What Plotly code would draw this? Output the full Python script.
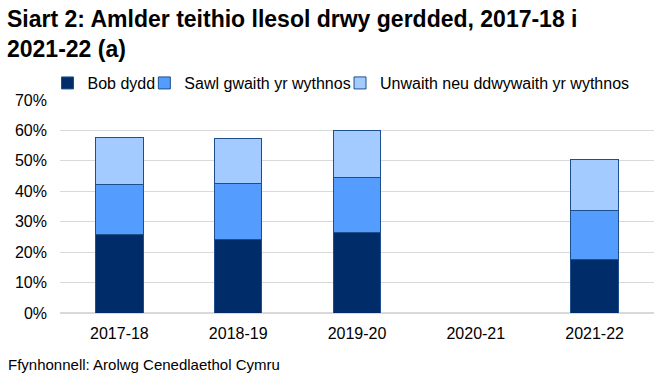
import plotly.graph_objects as go

categories = ["2017-18", "2018-19", "2019-20", "2020-21", "2021-22"]
bob_dydd = [25.9, 24.0, 26.6, None, 17.7]
sawl_gwaith = [16.4, 18.7, 18.0, None, 16.1]
unwaith = [15.5, 14.7, 15.5, None, 16.7]
series_names = ["Bob dydd", "Sawl gwaith yr wythnos", "Unwaith neu ddwywaith yr wythnos"]
colors = ["#002D6A", "#559CFF", "#A3CBFF"]
y_ticks = [0, 10, 20, 30, 40, 50, 60, 70]
y_tick_labels = [f"{v}%" for v in y_ticks]

W, H = 665, 380
ML, MR, MT, MB = 59.5, 10.5, 100, 66.7
PW, PH = W - ML - MR, H - MT - MB

def px_x(x):
    return (x - ML) / PW

def px_y(y):
    return (H - MB - y) / PH

legend_ids = ["legend", "legend2", "legend3"]
legend_left_px = [47, 144, 340]

fig = go.Figure()
for name, vals, col, lid in zip(series_names, [bob_dydd, sawl_gwaith, unwaith], colors, legend_ids):
    fig.add_trace(go.Bar(
        x=categories, y=vals, name=name, legend=lid,
        marker=dict(color=col, line=dict(color="#1F4E8C", width=1)),
    ))

legend_common = dict(orientation="h", yanchor="middle", bgcolor="rgba(0,0,0,0)",
                     font=dict(size=16, color="#000000"), itemwidth=30)
layout_legends = {}
for lid, lx in zip(legend_ids, legend_left_px):
    layout_legends[lid] = dict(legend_common, x=px_x(lx), xanchor="left", y=px_y(83))

fig.update_layout(
    barmode="stack",
    bargap=0.6,
    width=W, height=H,
    margin=dict(l=ML, r=MR, t=MT, b=MB, autoexpand=False),
    paper_bgcolor="white", plot_bgcolor="white",
    font=dict(family="Liberation Sans, Arial, sans-serif", size=16, color="#000000"),
    showlegend=True,
    **layout_legends,
)
fig.update_xaxes(showgrid=False, showline=False, ticks="", tickfont=dict(size=16),
                 ticklabelstandoff=9)
fig.update_yaxes(
    range=[0, 70], tickvals=y_ticks, ticktext=y_tick_labels,
    showgrid=True, gridcolor="#D9D9D9", gridwidth=1, zeroline=True, zerolinecolor="#D9D9D9",
    tickfont=dict(size=16), ticks="", ticklabelstandoff=12,
)
fig.add_annotation(
    text="<b>Siart 2: Amlder teithio llesol drwy gerdded, 2017-18 i<br>2021-22 (a)</b>",
    xref="paper", yref="paper", x=px_x(4), y=px_y(4), xanchor="left", yanchor="top",
    align="left", showarrow=False, font=dict(size=23, color="#000000"),
)
fig.add_annotation(
    text="Ffynhonnell: Arolwg Cenedlaethol Cymru",
    xref="paper", yref="paper", x=px_x(5), y=px_y(365), xanchor="left", yanchor="middle",
    showarrow=False, font=dict(size=15, color="#000000"),
)
fig.write_html("out.html", config={"displayModeBar": False},
               post_script="document.body.style.margin='0px';")
